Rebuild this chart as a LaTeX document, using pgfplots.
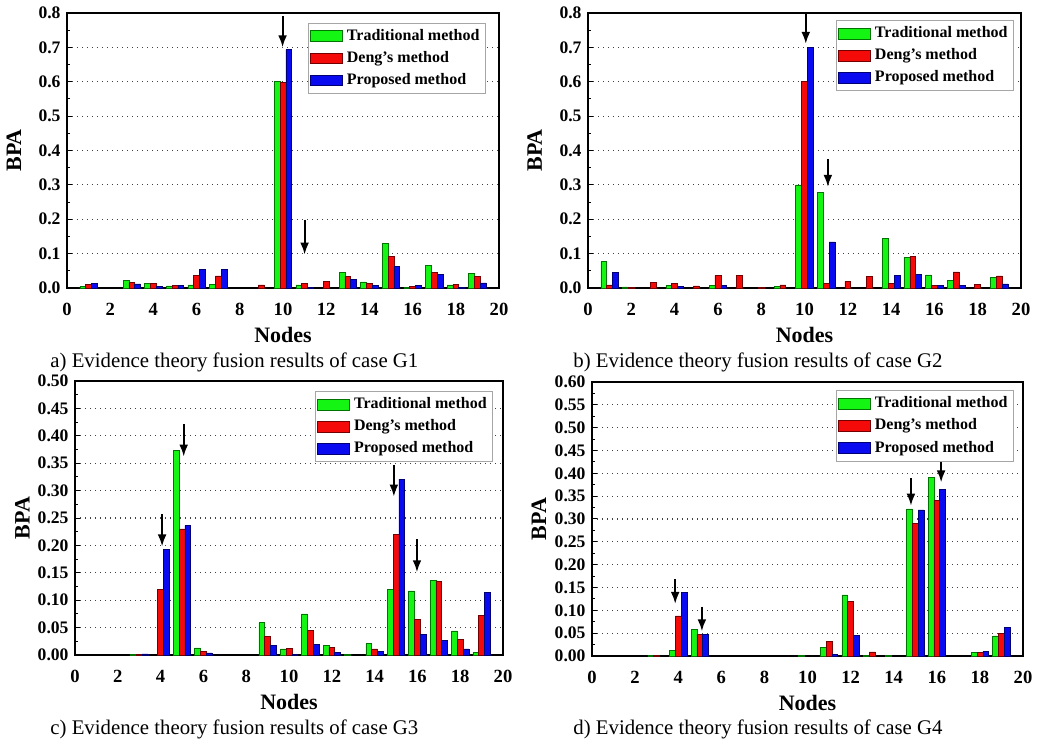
\documentclass[border=0pt]{standalone}
\usepackage{fontspec}
\setmainfont{Liberation Serif}
\usepackage{pgfplots}
\pgfplotsset{compat=1.18}
\usetikzlibrary{arrows.meta}

\definecolor{tgreen}{RGB}{20,245,20}
\definecolor{tred}{RGB}{245,10,10}
\definecolor{tblue}{RGB}{10,10,240}

\tikzset{arr/.style={line width=1pt, -{Latex[length=6pt,width=4.4pt]}}}

\pgfplotsset{
  bpa/.style={
    scale only axis, anchor=south west, clip=false,
    xmin=0, xmax=20, xtick={0,2,...,20},
    major x tick style={draw=none},
    ytick pos=left, xtick pos=bottom, tick align=inside,
    minor y tick num=1,
    major tick length=2.5pt, minor tick length=1.5pt,
    every tick/.style={black, line width=0.5pt},
    ymajorgrids,
    grid style={black!75, line width=0.55pt, dash pattern=on 0.5pt off 2pt},
    axis line style={line width=0.65pt},
    yticklabel style={font=\bfseries\fontsize{8.8}{10}\selectfont, xshift=0.3pt},
    xticklabel style={font=\bfseries\fontsize{9.3}{10}\selectfont, yshift=-4pt},
    /pgf/number format/assume math mode=true,
    scaled y ticks=false,
    xlabel={Nodes}, ylabel={BPA},
    label style={font=\bfseries\fontsize{11}{13}\selectfont},
    xlabel style={at={(axis description cs:0.5,-0.2)}, anchor=base},
    ylabel style={at={(axis description cs:-0.123,0.5)}, anchor=center},
    legend style={at={(0.97,0.965)}, anchor=north east, draw=black!35,
      line width=0.5pt, font=\bfseries\fontsize{8}{9.6}\selectfont,
      inner sep=1pt, row sep=0pt, cells={anchor=west}},
    legend image code/.code={\draw[#1] (0pt,-2.7pt) rectangle (16pt,2.7pt);},
  },
  dec1/.style={yticklabel style={/pgf/number format/.cd, fixed, fixed zerofill, precision=1}},
  dec2/.style={yticklabel style={/pgf/number format/.cd, fixed, fixed zerofill, precision=2}},
  tm/.style={ybar, bar width=0.27, bar shift=-0.27, fill=tgreen, draw=green!45!black, line width=0.3pt},
  dm/.style={ybar, bar width=0.27, bar shift=0, fill=tred, draw=red!45!black, line width=0.3pt},
  pm/.style={ybar, bar width=0.27, bar shift=0.27, fill=tblue, draw=blue!45!black, line width=0.3pt},
}

\begin{document}
\begin{tikzpicture}
\useasboundingbox (0,0) rectangle (523.5pt,371pt);

% a) case G1
\begin{axis}[bpa, dec1, at={(33.5pt,227pt)}, width=216pt, height=137.5pt,
  ymin=0, ymax=0.8, ytick={0,0.1,...,0.8}]
\addplot[tm] coordinates {(1,0.005) (3,0.023) (4,0.014) (5,0.006) (6,0.009) (7,0.010)
  (10,0.600) (11,0.009) (13,0.046) (14,0.018) (15,0.130) (16,0.002) (17,0.065) (18,0.009) (19,0.043)};
\addlegendentry{Traditional method}
\addplot[dm] coordinates {(1,0.010) (3,0.016) (4,0.013) (5,0.007) (6,0.037) (7,0.035) (9,0.009)
  (10,0.598) (11,0.014) (12,0.020) (13,0.034) (14,0.014) (15,0.091) (16,0.004) (17,0.046) (18,0.010) (19,0.034)};
\addlegendentry{Deng's method}
\addplot[pm] coordinates {(1,0.014) (3,0.012) (4,0.004) (5,0.008) (6,0.055) (7,0.054)
  (10,0.693) (11,0.002) (13,0.024) (14,0.007) (15,0.062) (16,0.007) (17,0.039) (18,0.002) (19,0.015)};
\addlegendentry{Proposed method}
\draw[arr] (axis cs:9.98,0.79) -- (axis cs:9.98,0.70);
\draw[arr] (axis cs:11.0,0.198) -- (axis cs:11.0,0.097);
\end{axis}

% b) case G2
\begin{axis}[bpa, dec1, at={(294pt,227pt)}, width=216.5pt, height=137.5pt,
  ymin=0, ymax=0.8, ytick={0,0.1,...,0.8},
  legend style={at={(0.984,0.975)}}]
\addplot[tm] coordinates {(1,0.077) (2,0.003) (4,0.007) (6,0.007) (9,0.004) (10,0.300)
  (11,0.278) (14,0.145) (15,0.089) (16,0.038) (17,0.023) (19,0.030)};
\addlegendentry{Traditional method}
\addplot[dm] coordinates {(1,0.009) (2,0.001) (3,0.016) (4,0.013) (5,0.006) (6,0.037) (7,0.036)
  (8,0.002) (9,0.009) (10,0.600) (11,0.014) (12,0.019) (13,0.034) (14,0.014) (15,0.092)
  (16,0.007) (17,0.047) (18,0.010) (19,0.035)};
\addlegendentry{Deng's method}
\addplot[pm] coordinates {(1,0.045) (4,0.004) (6,0.007) (10,0.700) (11,0.134) (14,0.037)
  (15,0.039) (16,0.008) (17,0.008) (19,0.012)};
\addlegendentry{Proposed method}
\draw[arr] (axis cs:10.06,0.80) -- (axis cs:10.06,0.71);
\draw[arr] (axis cs:11.08,0.374) -- (axis cs:11.08,0.294);
\end{axis}

% c) case G3
\begin{axis}[bpa, dec2, at={(37.5pt,43.5pt)}, width=214pt, height=137pt,
  ymin=0, ymax=0.5, ytick={0,0.05,...,0.5},
  legend style={at={(0.977,0.964)}}]
\addplot[tm] coordinates {(3,0.001) (5,0.373) (6,0.013) (9,0.059) (10,0.011) (11,0.075)
  (12,0.018) (13,0.001) (14,0.021) (15,0.120) (16,0.117) (17,0.136) (18,0.044) (19,0.005)};
\addlegendentry{Traditional method}
\addplot[dm] coordinates {(3,0.001) (4,0.119) (5,0.230) (6,0.007) (9,0.034) (10,0.012)
  (11,0.045) (12,0.014) (14,0.011) (15,0.220) (16,0.065) (17,0.134) (18,0.029) (19,0.072)};
\addlegendentry{Deng's method}
\addplot[pm] coordinates {(3,0.002) (4,0.192) (5,0.236) (6,0.004) (9,0.017) (10,0.001)
  (11,0.020) (12,0.005) (14,0.007) (15,0.321) (16,0.037) (17,0.027) (18,0.011) (19,0.114)};
\addlegendentry{Proposed method}
\draw[arr] (axis cs:4.07,0.257) -- (axis cs:4.07,0.198);
\draw[arr] (axis cs:5.08,0.421) -- (axis cs:5.08,0.362);
\draw[arr] (axis cs:14.9,0.346) -- (axis cs:14.9,0.289);
\draw[arr] (axis cs:15.98,0.211) -- (axis cs:15.98,0.151);
\end{axis}

% d) case G4
\begin{axis}[bpa, dec2, at={(296pt,43pt)}, width=215.5pt, height=137pt,
  ymin=0, ymax=0.6, ytick={0,0.05,...,0.6},
  legend style={at={(0.979,0.97)}}]
\addplot[tm] coordinates {(3,0.002) (4,0.012) (5,0.059) (10,0.001) (11,0.018) (12,0.134)
  (13,0.002) (14,0.001) (15,0.322) (16,0.391) (18,0.007) (19,0.044)};
\addlegendentry{Traditional method}
\addplot[dm] coordinates {(3,0.002) (4,0.088) (5,0.048) (11,0.032) (12,0.120) (13,0.009)
  (15,0.290) (16,0.340) (18,0.008) (19,0.050)};
\addlegendentry{Deng's method}
\addplot[pm] coordinates {(4,0.139) (5,0.047) (11,0.004) (12,0.045) (15,0.320) (16,0.365)
  (18,0.010) (19,0.062)};
\addlegendentry{Proposed method}
\draw[arr] (axis cs:3.86,0.169) -- (axis cs:3.86,0.114);
\draw[arr] (axis cs:5.1,0.108) -- (axis cs:5.1,0.054);
\draw[arr] (axis cs:14.8,0.389) -- (axis cs:14.8,0.329);
\draw[arr] (axis cs:16.2,0.44) -- (axis cs:16.2,0.38);
\end{axis}

\begin{scope}[every node/.style={font=\fontsize{10.4}{12}\selectfont, anchor=base west, inner sep=0pt}]
\node at (25pt,187pt) {a) Evidence theory fusion results of case G1};
\node at (286.5pt,187pt) {b) Evidence theory fusion results of case G2};
\node at (25pt,3.5pt) {c) Evidence theory fusion results of case G3};
\node at (286.5pt,3.5pt) {d) Evidence theory fusion results of case G4};
\end{scope}
\end{tikzpicture}
\end{document}
